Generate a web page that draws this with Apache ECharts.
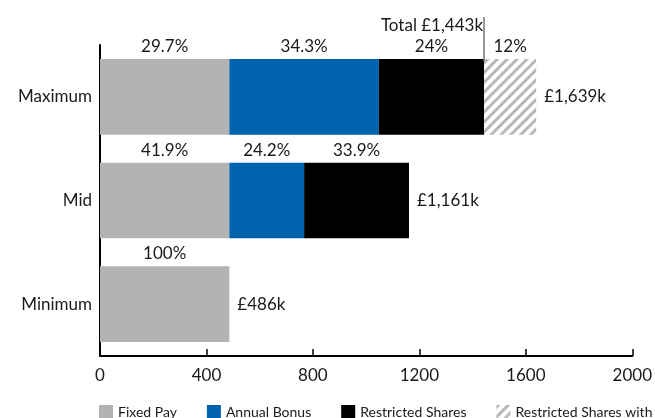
<!DOCTYPE html>
<html>
<head>
<meta charset="utf-8">
<script src="https://cdn.jsdelivr.net/npm/echarts@6/dist/echarts.min.js"></script>
<style>
  html, body { margin: 0; padding: 0; background: #fff; }
  #chart { width: 655px; height: 418px; }
</style>
</head>
<body>
<div id="chart"></div>
<script>
// pay scenarios, top to bottom
const categories = ['Maximum', 'Mid', 'Minimum']
const seriesNames = ['Fixed Pay', 'Annual Bonus', 'Restricted Shares', 'Restricted Shares with Performance Conditions']

// £k
const fixedPay = [486, 486, 486]
const annualBonus = [562, 281, 0]
const restrictedShares = [395, 394, 0]
const perfShares = [196, 0, 0]

// labels above each segment
const fixedPct = ['29.7%', '41.9%', '100%']
const bonusPct = ['34.3%', '24.2%', '']
const sharesPct = ['24%', '33.9%', '']
const perfPct = ['12%', '', '']

const xTicks = { min: 0, max: 2000, interval: 400 }

const totals = categories.map((c, i) => fixedPay[i] + annualBonus[i] + restrictedShares[i] + perfShares[i])
const maxBeforePerf = fixedPay[0] + annualBonus[0] + restrictedShares[0]

function money(v) {
  return '£' + String(v).replace(/\B(?=(\d{3})+(?!\d))/g, ',') + 'k'
}

const FONT = 'Lato'
const TXT = '#1a1a1a'
const FS = 17

function segLabel(texts) {
  return {
    show: true,
    position: 'top',
    distance: 4,
    fontFamily: FONT,
    fontSize: FS,
    color: TXT,
    formatter: p => texts[p.dataIndex]
  }
}

const colors = ['#b3b3b3', '#0063ae', '#000000', '#ffffff']
const stacked = [fixedPay, annualBonus, restrictedShares, perfShares]
const pcts = [fixedPct, bonusPct, sharesPct, perfPct]

const series = stacked.map((d, i) => {
  const s = {
    name: seriesNames[i],
    type: 'bar',
    stack: 'pay',
    barCategoryGap: '27%',
    barGap: '-100%',
    data: d,
    itemStyle: { color: colors[i] },
    label: segLabel(pcts[i]),
    emphasis: { disabled: true }
  }
  if (i === 3) {
    s.itemStyle.decal = {
      symbol: 'rect',
      symbolSize: 1,
      color: '#b8b8b8',
      dashArrayX: [1, 0],
      dashArrayY: [3, 3.5],
      rotation: -Math.PI / 4
    }
  }
  return s
})

// invisible bar carrying the totals and the £1,443k marker
series.push({
  name: 'total',
  type: 'bar',
  barGap: '-100%',
  barCategoryGap: '27%',
  silent: true,
  z: 1,
  data: totals,
  itemStyle: { color: 'rgba(0,0,0,0)' },
  label: {
    show: true,
    position: 'right',
    distance: 8,
    fontFamily: FONT,
    fontSize: FS,
    color: TXT,
    formatter: p => money(p.value)
  },
  markLine: {
    silent: true,
    symbol: 'none',
    label: { show: false },
    lineStyle: { color: '#777', width: 1.5, type: 'solid' },
    data: [[{ xAxis: maxBeforePerf, y: 17 }, { xAxis: maxBeforePerf, y: 61 }]]
  },
  markPoint: {
    silent: true,
    symbol: 'rect',
    symbolSize: 0,
    label: {
      show: true,
      position: 'left',
      distance: 1,
      fontFamily: FONT,
      fontSize: FS,
      color: TXT,
      formatter: () => 'Total ' + money(maxBeforePerf)
    },
    data: [{ xAxis: maxBeforePerf, y: 26 }]
  }
})

const chart = echarts.init(document.getElementById('chart'))
chart.setOption({
  animation: false,
  grid: { left: 100, right: 22, top: 45, bottom: 62 },
  legend: {
    data: seriesNames,
    left: 99,
    top: 405,
    padding: 0,
    width: 2000,
    itemWidth: 14,
    itemHeight: 14,
    itemGap: 30,
    icon: 'rect',
    textStyle: { fontFamily: FONT, fontSize: 14, color: TXT }
  },
  xAxis: {
    type: 'value',
    min: xTicks.min,
    max: xTicks.max,
    interval: xTicks.interval,
    axisLine: { show: true, lineStyle: { color: '#000', width: 2 } },
    axisTick: { show: true, inside: true, length: 7, lineStyle: { color: '#000', width: 1.5 } },
    splitLine: { show: false },
    axisLabel: { fontFamily: FONT, fontSize: FS, color: TXT, margin: 11, formatter: v => String(v) }
  },
  yAxis: {
    type: 'category',
    inverse: true,
    data: categories,
    axisLine: { show: true, lineStyle: { color: '#000', width: 2 } },
    axisTick: { show: false },
    axisLabel: { fontFamily: FONT, fontSize: FS, color: TXT, margin: 8 }
  },
  series: series
})
</script>
</body>
</html>
